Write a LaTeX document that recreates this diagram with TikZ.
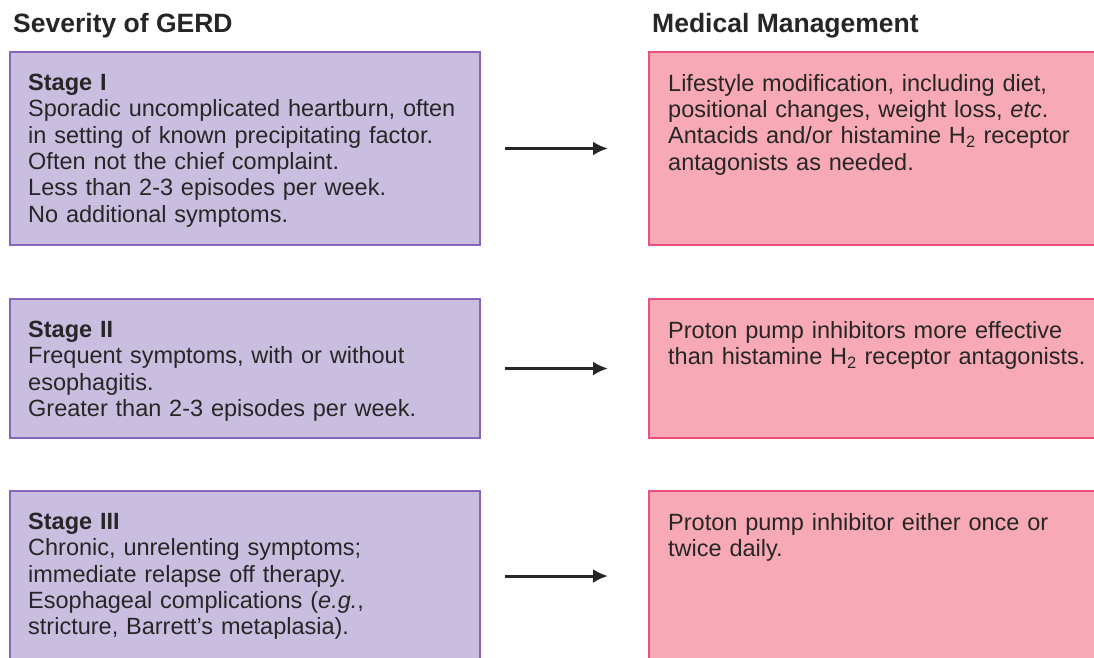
\documentclass[tikz,border=0pt]{standalone}
\usepackage{fontspec}
\setmainfont{Liberation Sans}
\usepackage{xcolor}
\usepackage{tikz}
\usetikzlibrary{arrows.meta,positioning}
\definecolor{StageFill}{HTML}{C9BEE0}
\definecolor{StageRule}{HTML}{8466BE}
\definecolor{CareFill}{HTML}{F7A9B6}
\definecolor{CareRule}{HTML}{EC4F7E}
\definecolor{Ink}{HTML}{262626}

\begin{document}
\begin{tikzpicture}[node distance=54pt and 169pt, every node/.style={font=\fontsize{23.5}{26.3}\selectfont,text=Ink}, stage/.style={draw=StageRule,line width=2.2pt,fill=StageFill,minimum width=470pt,outer sep=0pt,anchor=north west}, care/.style={draw=CareRule,line width=2.2pt,fill=CareFill,minimum width=470pt,outer sep=0pt}, txt/.style={inner sep=0pt,anchor=north west,align=left,text width=450pt}, head/.style={font=\fontsize{26.5}{30}\selectfont\bfseries,inner sep=0pt,anchor=base west}, arr/.style={-{Latex[length=15pt,width=14pt]},line width=3pt,draw=Ink,shorten <=25pt,shorten >=41pt}]
\useasboundingbox (0pt,0pt) rectangle (1094pt,-657pt);
\clip (0pt,0pt) rectangle (1094pt,-657pt);
\fill[white] (0pt,0pt) rectangle (1094pt,-657pt);
\node[stage,minimum height=193pt] (s1) at (10pt,-52pt) {};
\node[stage,below=of s1,minimum height=139pt] (s2) {};
\node[stage,below=53pt of s2,minimum height=170pt] (s3) {};
\node[care,right=of s1,minimum height=193pt] (m1) {};
\node[care,right=of s2,minimum height=139pt] (m2) {};
\node[care,right=of s3,minimum height=170pt] (m3) {};
\node[head] (hs) at ([shift={(3pt,20pt)}]s1.north west) {Severity of GERD};
\node[head] (hm) at ([shift={(3pt,20pt)}]m1.north west) {Medical Management};
\node[txt] (s1t) at ([shift={(18pt,-22pt)}]s1.north west) {\textbf{Stage I}\\Sporadic uncomplicated heartburn, often\\in setting of known precipitating factor.\\Often not the chief complaint.\\Less than 2-3 episodes per week.\\No additional symptoms.};
\node[txt] (s2t) at ([shift={(18pt,-22pt)}]s2.north west) {\textbf{Stage II}\\Frequent symptoms, with or without\\esophagitis.\\Greater than 2-3 episodes per week.};
\node[txt] (s3t) at ([shift={(18pt,-22pt)}]s3.north west) {\textbf{Stage III}\\Chronic, unrelenting symptoms;\\immediate relapse off therapy.\\Esophageal complications (\textit{e.g.},\\stricture, Barrett's metaplasia).};
\node[txt] (m1t) at ([shift={(19pt,-22pt)}]m1.north west) {Lifestyle modification, including diet,\\positional changes, weight loss, \textit{etc}.\\Antacids and/or histamine H\textsubscript{2} receptor\\antagonists as needed.};
\node[txt] (m2t) at ([shift={(19pt,-22pt)}]m2.north west) {Proton pump inhibitors more effective\\than histamine H\textsubscript{2} receptor antagonists.};
\node[txt] (m3t) at ([shift={(19pt,-22pt)}]m3.north west) {Proton pump inhibitor either once or\\twice daily.};
\draw[arr] (s1.east)--(m1.west); \draw[arr] (s2.east)--(m2.west); \draw[arr] (s3.east)--(m3.west);
\end{tikzpicture}
\end{document}
